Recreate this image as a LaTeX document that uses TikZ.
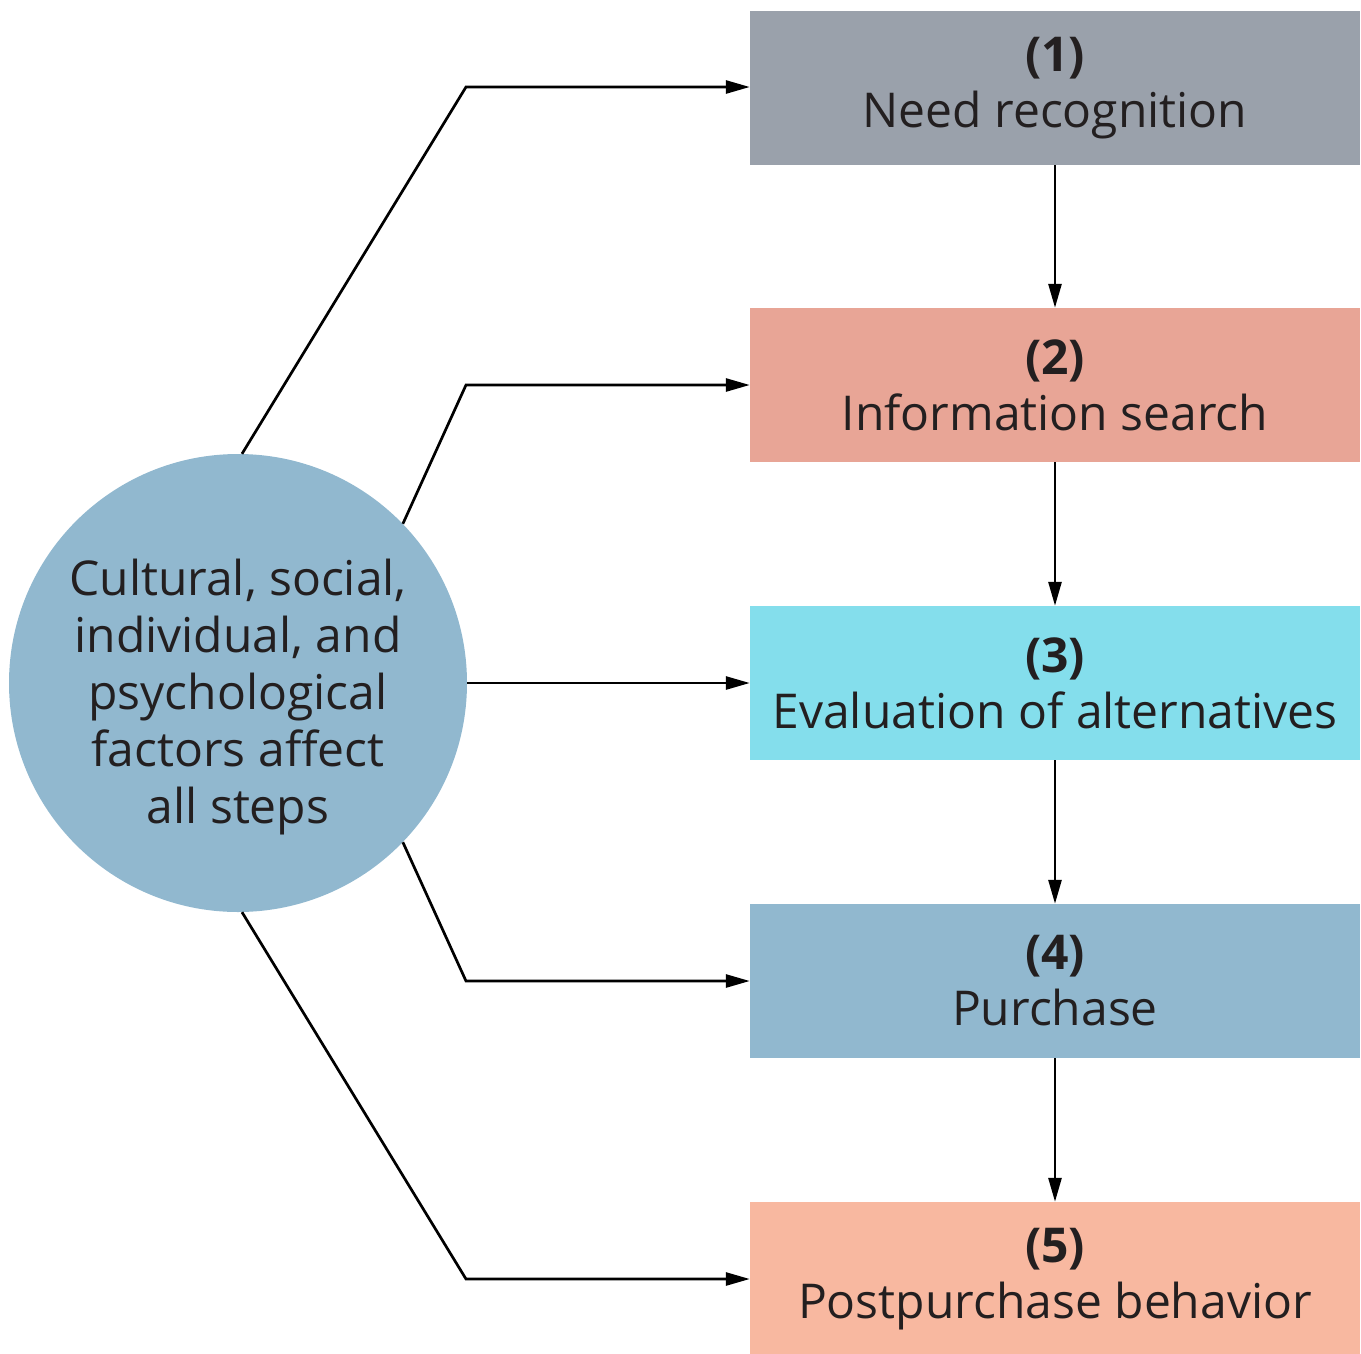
\documentclass[tikz,border=0pt]{standalone}
\usepackage{fontspec}
\setmainfont{Open Sans}
\usetikzlibrary{arrows.meta}
\definecolor{cgray}{HTML}{9AA1AB}
\definecolor{csalmon}{HTML}{E8A596}
\definecolor{ccyan}{HTML}{84DEEC}
\definecolor{cblue}{HTML}{91B8CF}
\definecolor{cpeach}{HTML}{F8B8A0}
\definecolor{ctext}{HTML}{231F20}
\tikzset{
  stepbox/.style={rectangle, minimum width=610pt, minimum height=154pt, inner sep=0pt,
    align=center, text=ctext, font=\fontsize{48}{56}\selectfont},
  factor/.style={circle, fill=cblue, minimum size=458pt, inner sep=0pt},
  factortext/.style={align=center, inner sep=0pt, text=ctext, font=\fontsize{48}{57}\selectfont},
  conn/.style={line width=2.7pt, -{Triangle[length=24pt,width=13pt]}},
}
\begin{document}
\begin{tikzpicture}[x=1pt,y=-1pt]
\useasboundingbox (0,0) rectangle (1361,1353);
\node[stepbox, fill=cgray]   (s1) at (1055,88)   {\textbf{(1)}\\Need recognition};
\node[stepbox, fill=csalmon] (s2) at (1055,385)  {\textbf{(2)}\\Information search};
\node[stepbox, fill=ccyan]   (s3) at (1055,683)  {\textbf{(3)}\\Evaluation of alternatives};
\node[stepbox, fill=cblue]   (s4) at (1055,981)  {\textbf{(4)}\\Purchase};
\node[stepbox, fill=cpeach]  (s5) at (1055,1279) {\textbf{(5)}\\Postpurchase behavior};
\node[factor] (f) at (238,683) {};
\node[factortext] (ft) at (238,697) {Cultural, social,\\individual, and\\psychological\\factors affect\\all steps};
\coordinate (e1) at (466,87);
\coordinate (e2) at (466,385);
\coordinate (e4) at (466,981);
\coordinate (e5) at (466,1279);
\draw[conn] (f.89) -- (e1) -- (e1 -| s1.west);
\draw[conn] (f.44) -- (e2) -- (s2.west);
\draw[conn] (f.east) -- (s3.west);
\draw[conn] (f.-44) -- (e4) -- (s4.west);
\draw[conn] (f.-89) -- (e5) -- (s5.west);
\draw[conn] (s1) -- (s2);
\draw[conn] (s2) -- (s3);
\draw[conn] (s3) -- (s4);
\draw[conn] (s4) -- (s5);
\end{tikzpicture}
\end{document}
